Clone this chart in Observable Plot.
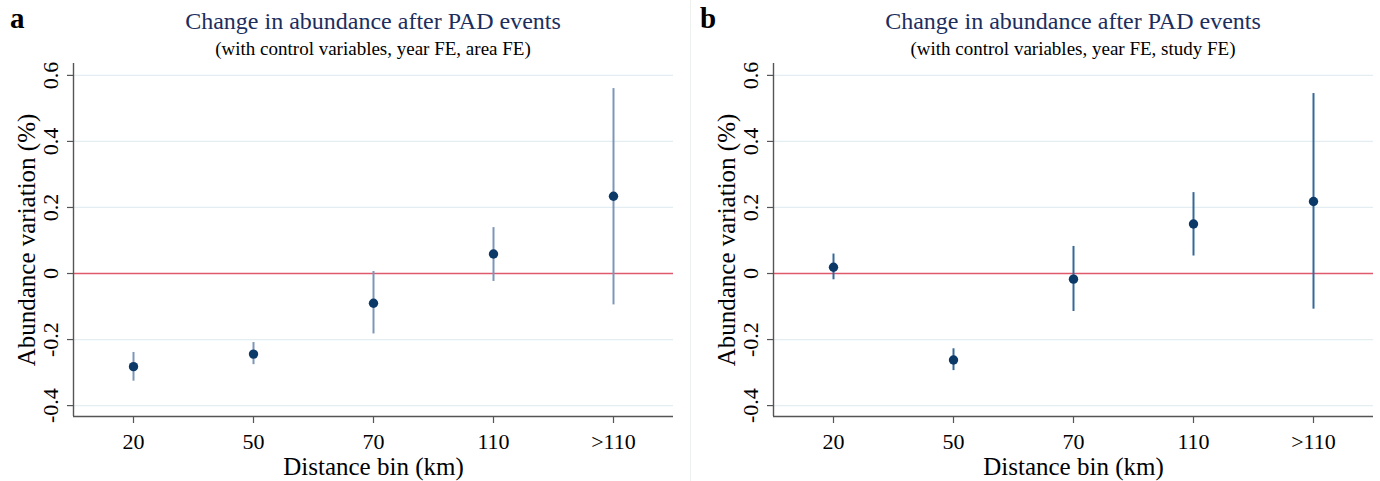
<!DOCTYPE html>
<html>
<head>
<meta charset="utf-8">
<script src="https://cdn.jsdelivr.net/npm/d3@7"></script>
<script src="https://cdn.jsdelivr.net/npm/@observablehq/plot@0.6"></script>
<style>
  html, body { margin: 0; padding: 0; background: #fff; }
  #root { display: flex; width: 1380px; height: 481px; overflow: hidden; }
  .panel { position: relative; width: 690px; height: 481px; }
  .head { position: relative; height: 58px; font-family: "Liberation Serif", "Times New Roman", serif; }
  .letter { position: absolute; left: 10px; top: 4px; font-size: 29px; line-height: 29px; font-weight: bold; color: #000; }
  .title { position: absolute; top: 9px; width: 600px; text-align: center; font-size: 24px; line-height: 24px; color: #1b2e5e; white-space: nowrap; }
  .subtitle { position: absolute; top: 39px; width: 600px; text-align: center; font-size: 19px; line-height: 19px; color: #000; white-space: nowrap; }
  svg { display: block; overflow: visible !important; }
</style>
</head>
<body>
<div id="root"></div>
<script>
// ---- data ----
const bins = ["20", "50", "70", "110", ">110"];
const yTicks = [-0.4, -0.2, 0, 0.2, 0.4, 0.6];
const yDomain = [-0.433, 0.636];

const titleText = "Change in abundance after PAD events";
const subtitleA = "(with control variables, year FE, area FE)";
const subtitleB = "(with control variables, year FE, study FE)";
const yLabel = "Abundance variation (%)";
const xLabel = "Distance bin (km)";

const coefA = [-0.282, -0.244, -0.090, 0.059, 0.234];
const loA   = [-0.326, -0.276, -0.183, -0.024, -0.095];
const hiA   = [-0.239, -0.209, 0.006, 0.139, 0.560];

const coefB = [0.019, -0.262, -0.017, 0.150, 0.218];
const loB   = [-0.019, -0.294, -0.115, 0.053, -0.108];
const hiB   = [0.059, -0.228, 0.082, 0.245, 0.545];

function makePanel({letter, subtitle, coef, lo, hi, ciColor, marginLeft, marginRight, borderLeft}) {
  const rows = bins.map((b, i) => ({i, bin: b, coef: coef[i], lo: lo[i], hi: hi[i]}));
  const xDomain = [-0.5, bins.length - 0.5];

  const panel = document.createElement("div");
  panel.className = "panel";
  if (borderLeft) panel.style.boxShadow = "inset 1px 0 0 #eef0f0";

  const head = document.createElement("div");
  head.className = "head";
  head.innerHTML = `<div class="letter">${letter}</div>
    <div class="title" style="left:${marginLeft}px">${titleText}</div>
    <div class="subtitle" style="left:${marginLeft}px">${subtitle}</div>`;
  panel.appendChild(head);

  const chart = Plot.plot({
    width: 690,
    height: 423,
    marginTop: 5,
    marginBottom: 65,
    marginLeft,
    marginRight,
    style: {fontFamily: "'Liberation Serif', 'Times New Roman', serif", fontSize: "22px", color: "#000", background: "transparent", overflow: "visible"},
    x: {domain: xDomain, axis: null},
    y: {domain: yDomain, axis: null},
    marks: [
      Plot.gridY(yTicks, {stroke: "#e3edf2", strokeOpacity: 1, strokeWidth: 1.2}),
      Plot.ruleY([0], {stroke: "#df5a6b", strokeWidth: 1.7}),
      // axes lines
      Plot.ruleX([xDomain[0]], {stroke: "#555", strokeWidth: 1.4}),
      Plot.ruleY([yDomain[0]], {stroke: "#555", strokeWidth: 1.4}),
      // y ticks
      Plot.axisY(yTicks, {tickSize: 6, tickFormat: () => "", stroke: "#555", strokeWidth: 1.2}),
      Plot.text(yTicks, {y: d => d, text: d => String(d), frameAnchor: "left", textAnchor: "middle", dx: -23, rotate: -90, fontSize: 22}),
      Plot.text([yLabel], {frameAnchor: "left", textAnchor: "middle", dx: -47, rotate: -90, fontSize: 25}),
      // x axis
      Plot.axisX(d3.range(bins.length), {tickSize: 7, tickPadding: 10, tickFormat: i => bins[i], fontSize: 22, stroke: "#555", strokeWidth: 1.2, label: null}),
      Plot.text([xLabel], {frameAnchor: "bottom", dy: 41, lineAnchor: "top", fontSize: 25}),
      // data
      Plot.ruleX(rows, {x: "i", y1: "lo", y2: "hi", stroke: ciColor, strokeWidth: 2}),
      Plot.dot(rows, {x: "i", y: "coef", r: 4.7, fill: "#0c3a68", stroke: "none"})
    ]
  });
  panel.appendChild(chart);
  return panel;
}

const root = document.getElementById("root");
root.appendChild(makePanel({letter: "a", subtitle: subtitleA, coef: coefA, lo: loA, hi: hiA, ciColor: "#7b97b8", marginLeft: 73, marginRight: 17}));
root.appendChild(makePanel({letter: "b", subtitle: subtitleB, coef: coefB, lo: loB, hi: hiB, ciColor: "#37689b", marginLeft: 83, marginRight: 7, borderLeft: true}));
</script>
</body>
</html>
